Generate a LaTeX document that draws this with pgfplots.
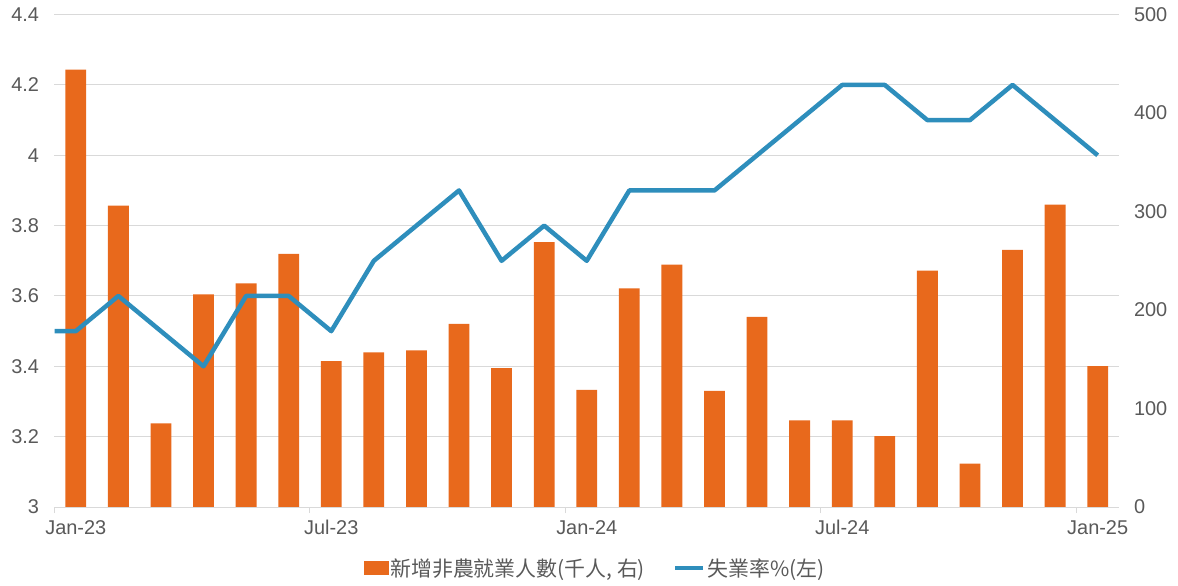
\documentclass[border=0pt]{standalone}
\usepackage{pgfplots}
\pgfplotsset{compat=1.18}
\usepackage{pgfplotstable}
\usepackage{fontspec}
\setmainfont{Liberation Sans}
\newfontfamily\cjk{Noto Sans CJK TC}

\definecolor{barorange}{HTML}{E8691C}
\definecolor{lineblue}{HTML}{2E8EBC}
\definecolor{txtgray}{HTML}{595959}
\definecolor{gridgray}{HTML}{D9D9D9}

% new nonfarm payrolls, thousands (right axis)
\pgfplotstableread{
x  nfp
0  444
1  306
2  85
3  216
4  227
5  257
6  148
7  157
8  159
9  186
10 141
11 269
12 119
13 222
14 246
15 118
16 193
17 88
18 88
19 72
20 240
21 44
22 261
23 307
24 143
}\nfpdata

% unemployment rate, % (left axis)
\pgfplotstableread{
x    ur
-0.5 3.5
0    3.5
1    3.6
2    3.5
3    3.4
4    3.6
5    3.6
6    3.5
7    3.7
8    3.8
9    3.9
10   3.7
11   3.8
12   3.7
13   3.9
14   3.9
15   3.9
16   4.0
17   4.1
18   4.2
19   4.2
20   4.1
21   4.1
22   4.2
23   4.1
24   4.0
}\urdata

\pgfplotsset{
  base/.style={
    at={(0,0)}, anchor=south west,
    scale only axis, width=1064.5bp, height=492.4bp,
    xmin=-0.5, xmax=24.5,
    major tick length=0pt,
    tick label style={font=\fontsize{20}{24}\selectfont, text=txtgray},
    /pgf/number format/assume math mode=true,
  }
}

\begin{document}
\begin{tikzpicture}

% left scale: grid, left labels, date axis
\begin{axis}[
    base,
    ymin=3, ymax=4.4,
    ytick={3,3.2,3.4,3.6,3.8,4,4.2,4.4},
    /pgf/number format/fixed,
    ymajorgrids,
    grid style={gridgray, line width=1bp},
    axis x line*=bottom,
    axis y line*=left,
    y axis line style={draw=none},
    x axis line style={gridgray, line width=1bp, -},
    xtick={0,6,12,18,24},
    xticklabels={Jan-23,Jul-23,Jan-24,Jul-24,Jan-25},
    extra x ticks={-0.5,5.5,11.5,17.5,23.5},
    extra x tick labels={},
    extra x tick style={major tick length=6bp, tick align=outside,
        grid=none, tick style={gridgray, line width=1bp}},
    yticklabel shift=12bp,
    xticklabel shift=10bp,
]
\end{axis}

% right scale: payroll bars
\begin{axis}[
    base,
    ymin=0, ymax=500,
    ytick={0,100,200,300,400,500},
    axis y line*=right,
    y axis line style={draw=none},
    hide x axis,
    yticklabel shift=11.5bp,
]
\addplot[ybar, bar width=20.8bp, fill=barorange, draw=none]
    table[x=x, y=nfp] {\nfpdata};
\end{axis}

% left scale again: unemployment line on top, legend
\begin{axis}[
    base,
    ymin=3, ymax=4.4,
    hide axis,
    legend columns=2,
    legend style={draw=none, fill=none, at={(0.508,-0.124)}, anchor=center,
        font=\cjk\fontsize{21}{25}\selectfont, text=txtgray,
        /tikz/every even column/.append style={column sep=26bp},
        nodes={inner sep=2bp}},
]
\addlegendimage{legend image code/.code={
    \fill[barorange] (0bp,-6.5bp) rectangle (24bp,6.5bp);}}
\addlegendentry{新增非農就業人數(千人, 右)}
\addplot[lineblue, line width=4.5bp, line join=round,
    legend image code/.code={
    \draw[lineblue, line width=4.5bp] (0bp,0bp) -- (28bp,0bp);}]
    table[x=x, y=ur] {\urdata};
\addlegendentry{失業率\%(左)}
\end{axis}

\pgfresetboundingbox
\useasboundingbox (-54.5bp,-79bp) rectangle (1123.5bp,507bp);
\end{tikzpicture}
\end{document}
